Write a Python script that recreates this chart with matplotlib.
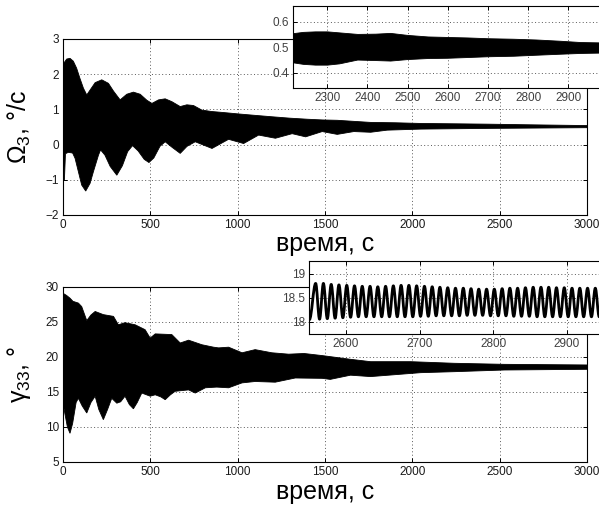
import numpy as np
import matplotlib
matplotlib.use("Agg")
import matplotlib.pyplot as plt
from matplotlib.path import Path
from matplotlib.patches import PathPatch

plt.rcParams['font.family'] = ['Liberation Sans', 'DejaVu Sans']
plt.rcParams['mathtext.default'] = 'regular'

# ---- top panel: envelope of Omega_3 (deg/s) ----
OM_UP_T = [0, 21, 40, 59, 78, 97, 117, 136, 155, 184, 222, 260, 289, 327,
           365, 403, 442, 480, 509, 547, 585, 623, 671, 709, 747, 795, 850,
           920, 1006, 1100, 1197, 1300, 1400, 1484, 1570, 1665, 1761, 1900,
           2048, 2250, 2430, 2700, 3000]
OM_UP = [2.28, 2.43, 2.45, 2.37, 2.17, 1.88, 1.60, 1.41, 1.55, 1.76, 1.84,
         1.74, 1.52, 1.27, 1.43, 1.49, 1.43, 1.26, 1.17, 1.27, 1.30, 1.22,
         1.08, 1.13, 1.11, 0.98, 0.94, 0.91, 0.87, 0.83, 0.79, 0.75, 0.72,
         0.70, 0.69, 0.66, 0.63, 0.62, 0.60, 0.59, 0.58, 0.56, 0.54]
OM_LO_T = [0, 8, 14, 30, 55, 69, 88, 107, 130, 155, 174, 203, 215, 240, 270,
           308, 340, 370, 398, 430, 465, 492, 520, 555, 585, 625, 671, 710,
           757, 853, 948, 1034, 1120, 1216, 1312, 1389, 1484, 1570, 1665,
           1761, 1856, 2048, 2430, 3000]
OM_LO = [-1.00, -1.00, -0.26, -0.22, -0.24, -0.39, -0.77, -1.15, -1.32, -1.10,
         -0.77, -0.30, -0.15, -0.30, -0.62, -0.87, -0.60, -0.20, -0.03, -0.18,
         -0.42, -0.51, -0.38, -0.05, 0.08, -0.08, -0.25, -0.05, 0.08, -0.11,
         0.15, 0.03, 0.27, 0.18, 0.31, 0.22, 0.37, 0.29, 0.37, 0.35, 0.41,
         0.44, 0.46, 0.48]

# inset 1 (t = 2215..3000)
IN1_T = [2215, 2240, 2270, 2300, 2330, 2375, 2420, 2457, 2500, 2550, 2598,
         2650, 2700, 2763, 2820, 2880, 2930, 3000]
IN1_UP = [0.555, 0.560, 0.562, 0.562, 0.558, 0.552, 0.553, 0.556, 0.548,
          0.542, 0.540, 0.538, 0.535, 0.533, 0.530, 0.525, 0.520, 0.518]
IN1_LO = [0.440, 0.434, 0.431, 0.431, 0.436, 0.451, 0.449, 0.447, 0.453,
          0.457, 0.458, 0.461, 0.464, 0.466, 0.470, 0.474, 0.477, 0.479]

# ---- bottom panel: envelope of gamma_33 (deg) ----
GA_UP_T = [0, 20, 40, 57, 88, 107, 136, 160, 184, 231, 289, 317, 355, 413,
           470, 499, 528, 623, 671, 719, 795, 862, 891, 948, 1025, 1100,
           1196, 1292, 1380, 1484, 1646, 1761, 1990, 2239, 2526, 3000]
GA_UP = [29.1, 28.8, 28.4, 27.95, 27.7, 27.2, 25.2, 26.0, 26.5, 26.05, 25.8,
         24.6, 24.9, 24.6, 23.9, 22.7, 23.3, 23.2, 22.0, 22.4, 21.75, 21.4,
         21.3, 21.4, 20.6, 21.05, 20.6, 20.4, 20.5, 20.2, 19.67, 19.33,
         19.33, 19.1, 18.95, 18.86]
GA_LO_T = [0, 10, 25, 40, 55, 75, 88, 110, 136, 160, 184, 205, 231, 255, 279,
           308, 330, 355, 380, 403, 425, 451, 499, 528, 560, 585, 615, 642,
           719, 757, 815, 880, 948, 1025, 1100, 1215, 1330, 1484, 1530, 1646,
           1761, 2048, 2239, 2526, 3000]
GA_LO = [13.5, 12.0, 10.0, 9.1, 10.5, 13.5, 14.1, 13.0, 12.0, 13.5, 14.4, 12.5,
         11.05, 12.5, 14.1, 13.4, 13.6, 14.4, 13.2, 12.6, 13.5, 14.85, 14.4,
         14.6, 14.3, 13.9, 14.6, 15.1, 15.3, 14.85, 15.6, 15.7, 15.6, 16.3,
         16.5, 16.4, 17.0, 16.95, 16.8, 17.4, 17.2, 17.76, 17.9, 18.14, 18.24]

# inset 2 (t = 2550..2950): alternating trough / crest
IN2_T = [2550.5, 2559.0, 2564.3, 2569.5, 2574.8, 2580.1, 2585.4, 2590.6,
         2595.9, 2601.2, 2606.4, 2611.7, 2617.0, 2622.2, 2627.5, 2632.8,
         2638.1, 2643.3, 2648.6, 2653.9, 2659.1, 2664.4, 2669.7, 2674.9,
         2680.2, 2685.5, 2690.8, 2696.0, 2701.3, 2706.6, 2711.8, 2717.1,
         2722.4, 2727.6, 2732.9, 2738.2, 2743.5, 2748.7, 2754.0, 2759.3,
         2764.5, 2769.8, 2775.1, 2780.3, 2785.6, 2790.9, 2796.2, 2801.4,
         2806.7, 2812.0, 2817.2, 2822.5, 2827.8, 2833.0, 2838.3, 2843.6,
         2848.9, 2854.1, 2859.4, 2864.7, 2869.9, 2875.2, 2880.5, 2885.7,
         2891.0, 2896.3, 2901.6, 2906.8, 2912.1, 2917.4, 2922.6, 2927.9,
         2933.2, 2938.4, 2943.7, 2949.0]
IN2_V = [18.04, 18.80, 18.05, 18.80, 18.06, 18.78, 18.07, 18.77, 18.08, 18.76,
         18.09, 18.75, 18.10, 18.74, 18.10, 18.74, 18.10, 18.73, 18.10, 18.74,
         18.10, 18.75, 18.10, 18.76, 18.10, 18.76, 18.10, 18.75, 18.11, 18.74,
         18.11, 18.73, 18.12, 18.72, 18.12, 18.71, 18.12, 18.70, 18.12, 18.70,
         18.13, 18.69, 18.13, 18.68, 18.13, 18.68, 18.12, 18.68, 18.12, 18.69,
         18.12, 18.70, 18.11, 18.70, 18.11, 18.71, 18.11, 18.72, 18.10, 18.72,
         18.10, 18.72, 18.10, 18.71, 18.10, 18.71, 18.10, 18.70, 18.10, 18.70,
         18.10, 18.70, 18.10, 18.70, 18.10, 18.70]

XTICKS = [0, 500, 1000, 1500, 2000, 2500, 3000]
OM_YTICKS = [-2, -1, 0, 1, 2, 3]
GA_YTICKS = [5, 10, 15, 20, 25, 30]
IN1_XTICKS = [2300, 2400, 2500, 2600, 2700, 2800, 2900]
IN1_YTICKS = [0.4, 0.5, 0.6]
IN2_XTICKS = [2600, 2700, 2800, 2900]
IN2_YTICKS = [18, 18.5, 19]

GRID = dict(linestyle=(0, (1, 2.5)), linewidth=0.7, color="0.35")


def style(ax, fs=8.5, color="0.1"):
    ax.tick_params(direction="in", top=True, right=True, length=3,
                   width=0.7, labelsize=fs, labelcolor=color, pad=3.0)
    for s in ax.spines.values():
        s.set_linewidth(0.8)
    ax.grid(True, **GRID)
    ax.set_axisbelow(True)


def band(ax, t_up, up, t_lo, lo):
    xs = np.concatenate([t_up, t_lo[::-1]])
    ys = np.concatenate([up, lo[::-1]])
    ax.fill(xs, ys, color="black", lw=0.6, zorder=2)


def smooth_line(ax, t, v, lw=2.0):
    verts = [(t[0], v[0])]
    codes = [Path.MOVETO]
    for i in range(len(t) - 1):
        d = t[i + 1] - t[i]
        verts += [(t[i] + 0.36 * d, v[i]), (t[i + 1] - 0.36 * d, v[i + 1]),
                  (t[i + 1], v[i + 1])]
        codes += [Path.CURVE4] * 3
    ax.add_patch(PathPatch(Path(verts, codes), fill=False, lw=lw,
                           edgecolor="black", capstyle="round",
                           joinstyle="round", zorder=2))


fig = plt.figure(figsize=(5.99, 5.11), dpi=100)

# top main axes
ax1 = fig.add_axes([0.1052, 0.5793, 0.8748, 0.3444])
band(ax1, np.array(OM_UP_T), np.array(OM_UP), np.array(OM_LO_T), np.array(OM_LO))
ax1.set_xlim(0, 3000)
ax1.set_ylim(-2, 3)
ax1.set_xticks(XTICKS)
ax1.set_yticks(OM_YTICKS)
style(ax1)
ax1.set_xlabel("время, с", fontsize=18)
ax1.xaxis.set_label_coords(0.5, -0.098)
ax1.set_ylabel(r"$\Omega_3$, °/с", fontsize=18)
ax1.yaxis.set_label_coords(-0.058, 0.5)

# bottom main axes
ax2 = fig.add_axes([0.1052, 0.0959, 0.8748, 0.3425])
band(ax2, np.array(GA_UP_T), np.array(GA_UP), np.array(GA_LO_T), np.array(GA_LO))
ax2.set_xlim(0, 3000)
ax2.set_ylim(5, 30)
ax2.set_xticks(XTICKS)
ax2.set_yticks(GA_YTICKS)
style(ax2)
ax2.set_xlabel("время, с", fontsize=18)
ax2.xaxis.set_label_coords(0.5, -0.105)
ax2.set_ylabel(r"$\gamma_{33}$, °", fontsize=18)
ax2.yaxis.set_label_coords(-0.058, 0.5)

# inset 1
in1 = fig.add_axes([0.4891, 0.8278, 0.5269, 0.1605], zorder=5)
in1.set_facecolor("white")
in1.fill_between(IN1_T, IN1_LO, IN1_UP, color="black", lw=0.6, zorder=2)
in1.set_xlim(2215, 3000)
in1.set_ylim(0.339, 0.662)
in1.set_xticks(IN1_XTICKS)
in1.set_yticks(IN1_YTICKS)
in1.set_yticklabels(["0.4", "0.5", "0.6"])
style(in1, color="0.25")

# inset 2
in2 = fig.add_axes([0.5159, 0.3464, 0.4922, 0.1429], zorder=5)
in2.set_facecolor("white")
smooth_line(in2, IN2_T, IN2_V)
in2.set_xlim(2550, 2950)
in2.set_ylim(17.74, 19.27)
in2.set_xticks(IN2_XTICKS)
in2.set_yticks(IN2_YTICKS)
in2.set_yticklabels(["18", "18.5", "19"])
style(in2, color="0.25")

fig.savefig("out.png", dpi=100)
